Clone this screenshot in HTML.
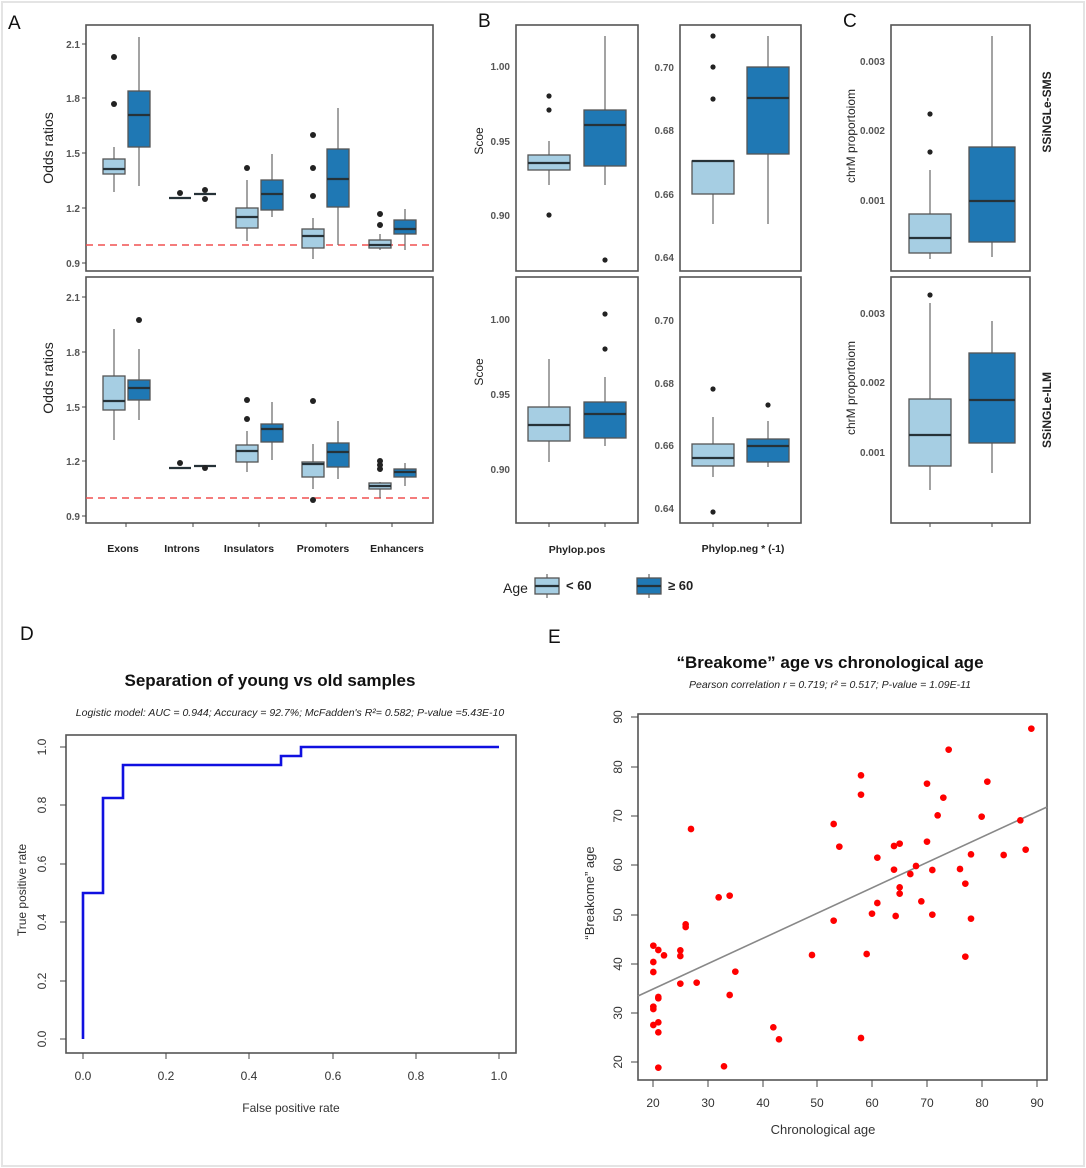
<!DOCTYPE html>
<html><head><meta charset="utf-8"><style>
body{margin:0;background:#fff}
svg{display:block;font-family:"Liberation Sans",sans-serif}
.l{fill:#a6cee3;stroke:#555;stroke-width:1.3}
.d{fill:#1f78b4;stroke:#555;stroke-width:1.3}
.m{stroke:#263238;stroke-width:2.2}
.w{stroke:#666;stroke-width:1.2}
.o{fill:#222}
.f{fill:none;stroke:#555;stroke-width:1.6}
.t{font-size:10px;font-weight:bold;fill:#555}
.ax{stroke:#444;stroke-width:1}
.rp{fill:#f00}
</style></head><body>
<svg width="1086" height="1168" viewBox="0 0 1086 1168">
<rect x="2" y="2" width="1082" height="1164" fill="#fff" stroke="#e4e4e4" stroke-width="2"/>
<!-- Panel letters -->
<g font-size="19" fill="#111">
<text x="8" y="29">A</text><text x="478" y="27">B</text><text x="843" y="27">C</text>
<text x="20" y="640">D</text><text x="548" y="643">E</text></g>

<!-- Panel A top -->
<rect class="f" x="86" y="25" width="347" height="246"/>
<g class="t" text-anchor="end"><text x="80" y="48">2.1</text><text x="80" y="102">1.8</text><text x="80" y="157">1.5</text><text x="80" y="212">1.2</text><text x="80" y="267">0.9</text></g>
<g class="ax"><line x1="82" x2="86" y1="44" y2="44"/><line x1="82" x2="86" y1="98" y2="98"/><line x1="82" x2="86" y1="153" y2="153"/><line x1="82" x2="86" y1="208" y2="208"/><line x1="82" x2="86" y1="263" y2="263"/></g>
<text x="0" y="0" transform="translate(53,148) rotate(-90)" text-anchor="middle" font-size="14" fill="#222">Odds ratios</text>
<line x1="86" x2="433" y1="245" y2="245" stroke="#f05050" stroke-width="1.6" stroke-dasharray="7,5"/>
<g>
<line class="w" x1="114" x2="114" y1="147" y2="192"/><rect class="l" x="103" y="159" width="22" height="15"/><line class="m" x1="103" x2="125" y1="169" y2="169"/><circle class="o" cx="114" cy="57" r="3"/><circle class="o" cx="114" cy="104" r="3"/>
<line class="w" x1="139" x2="139" y1="37" y2="186"/><rect class="d" x="128" y="91" width="22" height="56"/><line class="m" x1="128" x2="150" y1="115" y2="115"/>
<line class="m" x1="169" x2="191" y1="198" y2="198"/><circle class="o" cx="180" cy="193" r="3"/>
<line class="m" x1="194" x2="216" y1="194" y2="194"/><circle class="o" cx="205" cy="190" r="3"/><circle class="o" cx="205" cy="199" r="3"/>
<line class="w" x1="247" x2="247" y1="180" y2="241"/><rect class="l" x="236" y="208" width="22" height="20"/><line class="m" x1="236" x2="258" y1="217" y2="217"/><circle class="o" cx="247" cy="168" r="3"/>
<line class="w" x1="272" x2="272" y1="154" y2="217"/><rect class="d" x="261" y="180" width="22" height="30"/><line class="m" x1="261" x2="283" y1="194" y2="194"/>
<line class="w" x1="313" x2="313" y1="218" y2="259"/><rect class="l" x="302" y="229" width="22" height="19"/><line class="m" x1="302" x2="324" y1="236" y2="236"/><circle class="o" cx="313" cy="135" r="3"/><circle class="o" cx="313" cy="168" r="3"/><circle class="o" cx="313" cy="196" r="3"/>
<line class="w" x1="338" x2="338" y1="108" y2="245"/><rect class="d" x="327" y="149" width="22" height="58"/><line class="m" x1="327" x2="349" y1="179" y2="179"/>
<line class="w" x1="380" x2="380" y1="234" y2="250"/><rect class="l" x="369" y="240" width="22" height="8"/><line class="m" x1="369" x2="391" y1="245" y2="245"/><circle class="o" cx="380" cy="214" r="3"/><circle class="o" cx="380" cy="225" r="3"/>
<line class="w" x1="405" x2="405" y1="209" y2="250"/><rect class="d" x="394" y="220" width="22" height="14"/><line class="m" x1="394" x2="416" y1="229" y2="229"/>
</g>

<!-- Panel A bottom -->
<rect class="f" x="86" y="277" width="347" height="246"/>
<g class="t" text-anchor="end"><text x="80" y="301">2.1</text><text x="80" y="356">1.8</text><text x="80" y="411">1.5</text><text x="80" y="465">1.2</text><text x="80" y="520">0.9</text></g>
<g class="ax"><line x1="82" x2="86" y1="297" y2="297"/><line x1="82" x2="86" y1="352" y2="352"/><line x1="82" x2="86" y1="407" y2="407"/><line x1="82" x2="86" y1="461" y2="461"/><line x1="82" x2="86" y1="516" y2="516"/>
<line x1="126" x2="126" y1="523" y2="527"/><line x1="193" x2="193" y1="523" y2="527"/><line x1="259" x2="259" y1="523" y2="527"/><line x1="326" x2="326" y1="523" y2="527"/><line x1="392" x2="392" y1="523" y2="527"/></g>
<text transform="translate(53,378) rotate(-90)" text-anchor="middle" font-size="14" fill="#222">Odds ratios</text>
<line x1="86" x2="433" y1="498" y2="498" stroke="#f05050" stroke-width="1.6" stroke-dasharray="7,5"/>
<g>
<line class="w" x1="114" x2="114" y1="329" y2="440"/><rect class="l" x="103" y="376" width="22" height="34"/><line class="m" x1="103" x2="125" y1="401" y2="401"/>
<line class="w" x1="139" x2="139" y1="349" y2="420"/><rect class="d" x="128" y="380" width="22" height="20"/><line class="m" x1="128" x2="150" y1="388" y2="388"/><circle class="o" cx="139" cy="320" r="3"/>
<line class="m" x1="169" x2="191" y1="468" y2="468"/><circle class="o" cx="180" cy="463" r="3"/>
<line class="m" x1="194" x2="216" y1="466" y2="466"/><circle class="o" cx="205" cy="468" r="3"/>
<line class="w" x1="247" x2="247" y1="431" y2="472"/><rect class="l" x="236" y="445" width="22" height="17"/><line class="m" x1="236" x2="258" y1="451" y2="451"/><circle class="o" cx="247" cy="400" r="3"/><circle class="o" cx="247" cy="419" r="3"/>
<line class="w" x1="272" x2="272" y1="402" y2="460"/><rect class="d" x="261" y="424" width="22" height="18"/><line class="m" x1="261" x2="283" y1="429" y2="429"/>
<line class="w" x1="313" x2="313" y1="444" y2="489"/><rect class="l" x="302" y="462" width="22" height="15"/><line class="m" x1="302" x2="324" y1="464" y2="464"/><circle class="o" cx="313" cy="401" r="3"/><circle class="o" cx="313" cy="500" r="3"/>
<line class="w" x1="338" x2="338" y1="421" y2="479"/><rect class="d" x="327" y="443" width="22" height="24"/><line class="m" x1="327" x2="349" y1="452" y2="452"/>
<line class="w" x1="380" x2="380" y1="482" y2="498"/><rect class="l" x="369" y="483" width="22" height="6"/><line class="m" x1="369" x2="391" y1="486" y2="486"/><circle class="o" cx="380" cy="461" r="3"/><circle class="o" cx="380" cy="465" r="3"/><circle class="o" cx="380" cy="469" r="3"/>
<line class="w" x1="405" x2="405" y1="463" y2="486"/><rect class="d" x="394" y="469" width="22" height="8"/><line class="m" x1="394" x2="416" y1="472" y2="472"/>
</g>
<g font-size="10.5" font-weight="bold" fill="#222" text-anchor="middle">
<text x="123" y="552">Exons</text><text x="182" y="552">Introns</text><text x="249" y="552">Insulators</text><text x="323" y="552">Promoters</text><text x="397" y="552">Enhancers</text></g>

<!-- Panel B top -->
<rect class="f" x="516" y="25" width="122" height="246"/>
<rect class="f" x="680" y="25" width="121" height="246"/>
<g class="t" text-anchor="end"><text x="510" y="70">1.00</text><text x="510" y="145">0.95</text><text x="510" y="219">0.90</text>
<text x="674" y="71">0.70</text><text x="674" y="134">0.68</text><text x="674" y="198">0.66</text><text x="674" y="261">0.64</text></g>
<text transform="translate(483,141) rotate(-90)" text-anchor="middle" font-size="12" fill="#222">Scoe</text>
<line class="w" x1="549" x2="549" y1="141" y2="185"/><rect class="l" x="528" y="155" width="42" height="15"/><line class="m" x1="528" x2="570" y1="163" y2="163"/><circle class="o" cx="549" cy="96" r="2.6"/><circle class="o" cx="549" cy="110" r="2.6"/><circle class="o" cx="549" cy="215" r="2.6"/>
<line class="w" x1="605" x2="605" y1="36" y2="185"/><rect class="d" x="584" y="110" width="42" height="56"/><line class="m" x1="584" x2="626" y1="125" y2="125"/><circle class="o" cx="605" cy="260" r="2.6"/>
<line class="w" x1="713" x2="713" y1="194" y2="224"/><rect class="l" x="692" y="161" width="42" height="33"/><line class="m" x1="692" x2="734" y1="161" y2="161"/><circle class="o" cx="713" cy="36" r="2.6"/><circle class="o" cx="713" cy="67" r="2.6"/><circle class="o" cx="713" cy="99" r="2.6"/>
<line class="w" x1="768" x2="768" y1="36" y2="224"/><rect class="d" x="747" y="67" width="42" height="87"/><line class="m" x1="747" x2="789" y1="98" y2="98"/>

<!-- Panel B bottom -->
<rect class="f" x="516" y="277" width="122" height="246"/>
<rect class="f" x="680" y="277" width="121" height="246"/>
<g class="t" text-anchor="end"><text x="510" y="323">1.00</text><text x="510" y="398">0.95</text><text x="510" y="473">0.90</text>
<text x="674" y="324">0.70</text><text x="674" y="387">0.68</text><text x="674" y="449">0.66</text><text x="674" y="512">0.64</text></g>
<text transform="translate(483,372) rotate(-90)" text-anchor="middle" font-size="12" fill="#222">Scoe</text>
<line class="w" x1="549" x2="549" y1="359" y2="462"/><rect class="l" x="528" y="407" width="42" height="34"/><line class="m" x1="528" x2="570" y1="425" y2="425"/>
<line class="w" x1="605" x2="605" y1="377" y2="446"/><rect class="d" x="584" y="402" width="42" height="36"/><line class="m" x1="584" x2="626" y1="414" y2="414"/><circle class="o" cx="605" cy="314" r="2.6"/><circle class="o" cx="605" cy="349" r="2.6"/>
<line class="w" x1="713" x2="713" y1="417" y2="477"/><rect class="l" x="692" y="444" width="42" height="22"/><line class="m" x1="692" x2="734" y1="458" y2="458"/><circle class="o" cx="713" cy="389" r="2.6"/><circle class="o" cx="713" cy="512" r="2.6"/>
<line class="w" x1="768" x2="768" y1="421" y2="467"/><rect class="d" x="747" y="439" width="42" height="23"/><line class="m" x1="747" x2="789" y1="446" y2="446"/><circle class="o" cx="768" cy="405" r="2.6"/>
<g class="ax"><line x1="549" x2="549" y1="523" y2="527"/><line x1="605" x2="605" y1="523" y2="527"/><line x1="713" x2="713" y1="523" y2="527"/><line x1="768" x2="768" y1="523" y2="527"/><line x1="930" x2="930" y1="523" y2="527"/><line x1="992" x2="992" y1="523" y2="527"/></g>
<g font-size="10.5" font-weight="bold" fill="#222" text-anchor="middle"><text x="577" y="553">Phylop.pos</text><text x="743" y="552">Phylop.neg * (-1)</text></g>

<!-- Panel C -->
<rect class="f" x="891" y="25" width="139" height="246"/>
<rect class="f" x="891" y="277" width="139" height="246"/>
<g class="t" text-anchor="end"><text x="885" y="65">0.003</text><text x="885" y="134">0.002</text><text x="885" y="204">0.001</text>
<text x="885" y="317">0.003</text><text x="885" y="386">0.002</text><text x="885" y="456">0.001</text></g>
<g font-size="12" fill="#222" text-anchor="middle"><text transform="translate(855,136) rotate(-90)">chrM proportoiom</text><text transform="translate(855,388) rotate(-90)">chrM proportoiom</text></g>
<g font-size="12" font-weight="bold" fill="#222" text-anchor="middle"><text transform="translate(1051,112) rotate(-90)">SSiNGLe-SMS</text><text transform="translate(1051,410) rotate(-90)">SSiNGLe-ILM</text></g>
<line class="w" x1="930" x2="930" y1="170" y2="259"/><rect class="l" x="909" y="214" width="42" height="39"/><line class="m" x1="909" x2="951" y1="238" y2="238"/><circle class="o" cx="930" cy="114" r="2.6"/><circle class="o" cx="930" cy="152" r="2.6"/>
<line class="w" x1="992" x2="992" y1="36" y2="257"/><rect class="d" x="969" y="147" width="46" height="95"/><line class="m" x1="969" x2="1015" y1="201" y2="201"/>
<line class="w" x1="930" x2="930" y1="303" y2="490"/><rect class="l" x="909" y="399" width="42" height="67"/><line class="m" x1="909" x2="951" y1="435" y2="435"/><circle class="o" cx="930" cy="295" r="2.6"/>
<line class="w" x1="992" x2="992" y1="321" y2="473"/><rect class="d" x="969" y="353" width="46" height="90"/><line class="m" x1="969" x2="1015" y1="400" y2="400"/>

<!-- Legend -->
<text x="503" y="593" font-size="14" fill="#222">Age</text>
<line class="w" x1="547" x2="547" y1="574" y2="598"/><rect class="l" x="535" y="578" width="24" height="16"/><line class="m" x1="535" x2="559" y1="586" y2="586"/>
<text x="566" y="590" font-size="13" font-weight="bold" fill="#222">&lt; 60</text>
<line class="w" x1="649" x2="649" y1="574" y2="598"/><rect class="d" x="637" y="578" width="24" height="16"/><line class="m" x1="637" x2="661" y1="586" y2="586"/>
<text x="668" y="590" font-size="13" font-weight="bold" fill="#222">≥ 60</text>

<!-- Panel D -->
<text x="270" y="686" text-anchor="middle" font-size="17" font-weight="bold" fill="#111">Separation of young vs old samples</text>
<text x="290" y="716" text-anchor="middle" font-size="10.5" font-style="italic" fill="#222">Logistic model: AUC =  0.944; Accuracy = 92.7%;  McFadden's R²= 0.582; P-value =5.43E-10</text>
<rect class="f" x="66" y="735" width="450" height="318" stroke="#333"/>
<g class="ax"><line x1="60" x2="66" y1="747" y2="747"/><line x1="60" x2="66" y1="805" y2="805"/><line x1="60" x2="66" y1="864" y2="864"/><line x1="60" x2="66" y1="922" y2="922"/><line x1="60" x2="66" y1="981" y2="981"/><line x1="60" x2="66" y1="1039" y2="1039"/>
<line x1="83" x2="83" y1="1053" y2="1059"/><line x1="166" x2="166" y1="1053" y2="1059"/><line x1="249" x2="249" y1="1053" y2="1059"/><line x1="333" x2="333" y1="1053" y2="1059"/><line x1="416" x2="416" y1="1053" y2="1059"/><line x1="499" x2="499" y1="1053" y2="1059"/></g>
<g font-size="12" fill="#333" text-anchor="middle">
<text transform="translate(46,747) rotate(-90)">1.0</text><text transform="translate(46,805) rotate(-90)">0.8</text><text transform="translate(46,864) rotate(-90)">0.6</text><text transform="translate(46,922) rotate(-90)">0.4</text><text transform="translate(46,981) rotate(-90)">0.2</text><text transform="translate(46,1039) rotate(-90)">0.0</text>
<text x="83" y="1080">0.0</text><text x="166" y="1080">0.2</text><text x="249" y="1080">0.4</text><text x="333" y="1080">0.6</text><text x="416" y="1080">0.8</text><text x="499" y="1080">1.0</text>
<text transform="translate(26,890) rotate(-90)">True positive rate</text><text x="291" y="1112">False positive rate</text></g>
<polyline fill="none" stroke="#1010e0" stroke-width="2.6" points="83,1039 83,893 103,893 103,798 123,798 123,765 281,765 281,756 301,756 301,747 499,747"/>

<!-- Panel E -->
<text x="830" y="668" text-anchor="middle" font-size="17" font-weight="bold" fill="#111">“Breakome” age vs chronological age</text>
<text x="830" y="688" text-anchor="middle" font-size="10.5" font-style="italic" fill="#222">Pearson correlation r = 0.719; r² = 0.517; P-value = 1.09E-11</text>
<rect class="f" x="638" y="714" width="409" height="366" stroke="#333"/>
<g class="ax"><line x1="653" x2="653" y1="1080" y2="1087"/><line x1="708" x2="708" y1="1080" y2="1087"/><line x1="763" x2="763" y1="1080" y2="1087"/><line x1="817" x2="817" y1="1080" y2="1087"/><line x1="872" x2="872" y1="1080" y2="1087"/><line x1="927" x2="927" y1="1080" y2="1087"/><line x1="982" x2="982" y1="1080" y2="1087"/><line x1="1037" x2="1037" y1="1080" y2="1087"/>
<line x1="631" x2="638" y1="717" y2="717"/><line x1="631" x2="638" y1="767" y2="767"/><line x1="631" x2="638" y1="816" y2="816"/><line x1="631" x2="638" y1="865" y2="865"/><line x1="631" x2="638" y1="915" y2="915"/><line x1="631" x2="638" y1="964" y2="964"/><line x1="631" x2="638" y1="1013" y2="1013"/><line x1="631" x2="638" y1="1062" y2="1062"/></g>
<g font-size="12" fill="#333" text-anchor="middle">
<text x="653" y="1107">20</text><text x="708" y="1107">30</text><text x="763" y="1107">40</text><text x="817" y="1107">50</text><text x="872" y="1107">60</text><text x="927" y="1107">70</text><text x="982" y="1107">80</text><text x="1037" y="1107">90</text>
<text transform="translate(622,717) rotate(-90)">90</text><text transform="translate(622,767) rotate(-90)">80</text><text transform="translate(622,816) rotate(-90)">70</text><text transform="translate(622,865) rotate(-90)">60</text><text transform="translate(622,915) rotate(-90)">50</text><text transform="translate(622,964) rotate(-90)">40</text><text transform="translate(622,1013) rotate(-90)">30</text><text transform="translate(622,1062) rotate(-90)">20</text>
<text x="823" y="1134" font-size="13">Chronological age</text>
<text transform="translate(594,893) rotate(-90)" font-size="13">“Breakome” age</text></g>
<line x1="638" y1="996" x2="1047" y2="807" stroke="#888" stroke-width="1.6"/>
<g transform="translate(560,680) scale(0.33333)" class="rp">
<circle cx="1414" cy="146" r="10"/><circle cx="1166" cy="209" r="10"/><circle cx="903" cy="286" r="10"/><circle cx="1101" cy="311" r="10"/><circle cx="1282" cy="305" r="10"/><circle cx="903" cy="344" r="10"/><circle cx="1150" cy="353" r="10"/><circle cx="393" cy="447" r="10"/><circle cx="821" cy="432" r="10"/><circle cx="1133" cy="406" r="10"/><circle cx="1265" cy="410" r="10"/><circle cx="1381" cy="421" r="10"/><circle cx="838" cy="500" r="10"/><circle cx="1002" cy="498" r="10"/><circle cx="1019" cy="491" r="10"/><circle cx="1101" cy="485" r="10"/><circle cx="952" cy="533" r="10"/><circle cx="1233" cy="523" r="10"/><circle cx="1331" cy="525" r="10"/><circle cx="1397" cy="509" r="10"/><circle cx="1002" cy="569" r="10"/><circle cx="1068" cy="558" r="10"/><circle cx="1051" cy="582" r="10"/><circle cx="1117" cy="570" r="10"/><circle cx="1200" cy="567" r="10"/><circle cx="1216" cy="611" r="10"/><circle cx="1019" cy="622" r="10"/><circle cx="1019" cy="641" r="10"/><circle cx="952" cy="669" r="10"/><circle cx="1084" cy="664" r="10"/><circle cx="936" cy="701" r="10"/><circle cx="1007" cy="708" r="10"/><circle cx="1117" cy="704" r="10"/><circle cx="1233" cy="716" r="10"/><circle cx="821" cy="722" r="10"/><circle cx="476" cy="652" r="10"/><circle cx="509" cy="647" r="10"/><circle cx="377" cy="733" r="10"/><circle cx="377" cy="741" r="10"/><circle cx="280" cy="797" r="10"/><circle cx="295" cy="810" r="10"/><circle cx="312" cy="826" r="10"/><circle cx="361" cy="811" r="10"/><circle cx="361" cy="828" r="10"/><circle cx="756" cy="825" r="10"/><circle cx="920" cy="822" r="10"/><circle cx="1216" cy="830" r="10"/><circle cx="280" cy="846" r="10"/><circle cx="280" cy="876" r="10"/><circle cx="526" cy="875" r="10"/><circle cx="361" cy="911" r="10"/><circle cx="410" cy="908" r="10"/><circle cx="295" cy="951" r="10"/><circle cx="295" cy="955" r="10"/><circle cx="509" cy="945" r="10"/><circle cx="280" cy="980" r="10"/><circle cx="280" cy="987" r="10"/><circle cx="295" cy="1027" r="10"/><circle cx="280" cy="1035" r="10"/><circle cx="295" cy="1057" r="10"/><circle cx="640" cy="1042" r="10"/><circle cx="657" cy="1078" r="10"/><circle cx="903" cy="1074" r="10"/><circle cx="295" cy="1163" r="10"/><circle cx="492" cy="1159" r="10"/>
</g>
</svg>
</body></html>
